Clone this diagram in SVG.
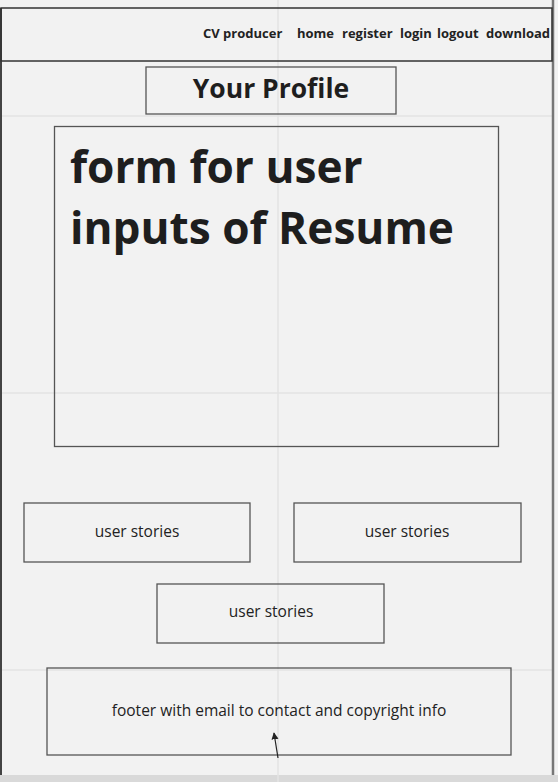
<svg xmlns="http://www.w3.org/2000/svg" width="558" height="782" viewBox="0 0 558 782">
  <style>
    .box { fill: none; stroke: #555; stroke-width: 1.3; }
    .grid { stroke: #e3e3e3; stroke-width: 1.5; }
    .nav { font-family: "Open Sans", "Liberation Sans", sans-serif; font-weight: bold; font-size: 13px; fill: #222; }
    .label { font-family: "Open Sans", "Liberation Sans", sans-serif; font-size: 15.5px; fill: #222; text-anchor: middle; }
    .title { font-family: "Open Sans", "Liberation Sans", sans-serif; font-weight: bold; fill: #1e1e1e; }
  </style>
  <defs>
    <marker id="arrowHead" viewBox="0 0 10 10" refX="9" refY="5" markerWidth="7" markerHeight="9" orient="auto" markerUnits="userSpaceOnUse">
      <path d="M0,0 L10,5 L0,10 z" fill="#222"/>
    </marker>
  </defs>

  <!-- canvas -->
  <rect x="0" y="0" width="558" height="782" fill="#f2f2f2"/>
  <rect x="0" y="775" width="558" height="7" fill="#d9d9d9"/>

  <!-- guide grid -->
  <g id="grid">
    <line class="grid" x1="278" y1="0" x2="278" y2="782"/>
    <line class="grid" x1="0" y1="116" x2="552" y2="116"/>
    <line class="grid" x1="0" y1="393" x2="552" y2="393"/>
    <line class="grid" x1="0" y1="670" x2="552" y2="670"/>
  </g>

  <!-- page frame -->
  <line x1="1" y1="8" x2="1" y2="775" stroke="#444" stroke-width="2"/>
  <line x1="553" y1="0" x2="553" y2="775" stroke="#777" stroke-width="2.5"/>

  <!-- header bar -->
  <g id="header">
    <rect x="1" y="8" width="551" height="53" fill="none" stroke="#333" stroke-width="1.5"/>
    <text class="nav" x="203" y="38">CV producer</text>
    <text class="nav" x="297" y="38">home</text>
    <text class="nav" x="342" y="38">register</text>
    <text class="nav" x="400" y="38">login</text>
    <text class="nav" x="437" y="38">logout</text>
    <text class="nav" x="486" y="38">download</text>
  </g>

  <g id="profile-title">
    <rect class="box" x="146" y="67" width="250" height="47"/>
    <text class="title" x="271" y="98" font-size="26.5" text-anchor="middle">Your Profile</text>
  </g>

  <g id="resume-form">
    <rect class="box" x="54.5" y="126.5" width="444" height="320"/>
    <text class="title" x="70" y="183" font-size="44.2">form for user</text>
    <text class="title" x="70" y="244" font-size="44.2">inputs of Resume</text>
  </g>

  <g id="stories-left">
    <rect class="box" x="24" y="503" width="226" height="59"/>
    <text class="label" x="137" y="537">user stories</text>
  </g>

  <g id="stories-right">
    <rect class="box" x="294" y="503" width="227" height="59"/>
    <text class="label" x="407" y="537">user stories</text>
  </g>

  <g id="stories-center">
    <rect class="box" x="157" y="584" width="227" height="59"/>
    <text class="label" x="271" y="617">user stories</text>
  </g>

  <g id="footer">
    <rect class="box" x="47" y="668" width="464" height="87"/>
    <text class="label" x="279" y="716">footer with email to contact and copyright info</text>
  </g>

  <g id="connectors">
    <line x1="278" y1="758" x2="274" y2="733" stroke="#222" stroke-width="1.2" marker-end="url(#arrowHead)"/>
  </g>
</svg>
